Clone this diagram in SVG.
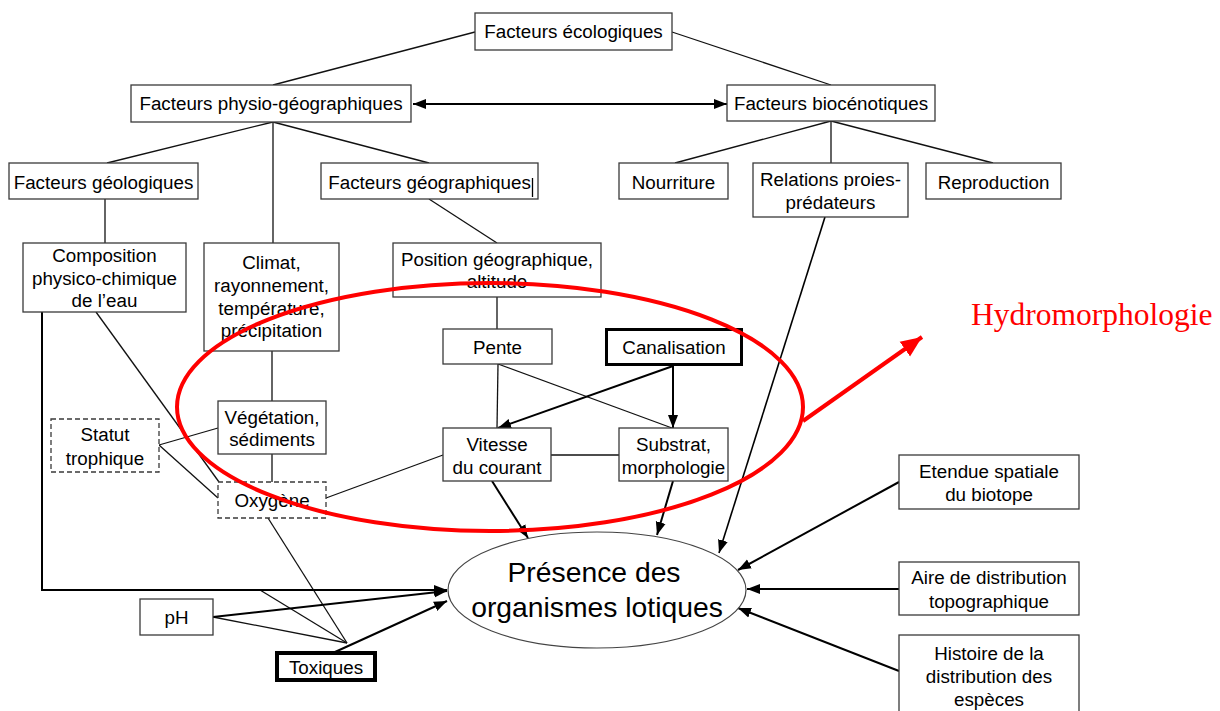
<svg xmlns="http://www.w3.org/2000/svg" width="1220" height="711" viewBox="0 0 1220 711">
<style>
.bx{fill:#fff;stroke:#3a3a3a;stroke-width:1.3}
.dash{stroke-dasharray:5,3}
.thick3{stroke:#000;stroke-width:3}
.thick4{stroke:#000;stroke-width:4}
text{font-family:"Liberation Sans",Arial,sans-serif;font-size:18.8px;fill:#000;text-anchor:middle}
.ln{stroke:#111;stroke-width:1.3;fill:none}
.ar{stroke:#000;stroke-width:2;fill:none;marker-end:url(#ah)}
.arm{stroke:#000;stroke-width:1.6;fill:none;marker-end:url(#ah)}
</style>
<defs>
<marker id="ah" markerUnits="userSpaceOnUse" markerWidth="14" markerHeight="12" viewBox="0 0 14 12" refX="13" refY="6" orient="auto">
<path d="M0,1 L13,6 L0,11 Z" fill="#000"/>
</marker>
<marker id="ahs" markerUnits="userSpaceOnUse" markerWidth="14" markerHeight="12" viewBox="0 0 14 12" refX="1" refY="6" orient="auto">
<path d="M14,1 L1,6 L14,11 Z" fill="#000"/>
</marker>
<marker id="rah" markerUnits="userSpaceOnUse" markerWidth="22" markerHeight="20" viewBox="0 0 22 20" refX="21" refY="10" orient="auto">
<path d="M0,1 L21,10 L0,19 Z" fill="#f00"/>
</marker>
</defs>
<rect width="1220" height="711" fill="#fff"/>

<g id="connectors">
<line class="ln" x1="475" y1="32" x2="273" y2="85"/>
<line class="ln" x1="672" y1="32" x2="831" y2="85"/>
<line class="ln" x1="273" y1="122" x2="107" y2="163"/>
<line class="ln" x1="273" y1="122" x2="273" y2="243"/>
<line class="ln" x1="273" y1="122" x2="429" y2="163"/>
<line class="ln" x1="105" y1="199" x2="105" y2="243"/>
<line class="ln" x1="429" y1="199" x2="497" y2="243"/>
<line class="ln" x1="831" y1="121" x2="675" y2="163"/>
<line class="ln" x1="831" y1="121" x2="831" y2="163"/>
<line class="ln" x1="831" y1="121" x2="993" y2="163"/>
<line class="ln" x1="272" y1="351" x2="272" y2="401"/>
<line class="ln" x1="272" y1="454" x2="272" y2="482"/>
<line class="ln" x1="96" y1="312" x2="219" y2="482"/>
<line class="ln" x1="159" y1="445" x2="218" y2="428"/>
<line class="ln" x1="159" y1="445" x2="218" y2="498"/>
<line class="ln" x1="326" y1="498" x2="443" y2="455"/>
<line class="ln" x1="497" y1="297" x2="497" y2="329"/>
<line class="ln" x1="498" y1="364" x2="497" y2="428"/>
<line class="ln" x1="498" y1="364" x2="672" y2="428"/>
<line class="ln" x1="551" y1="455" x2="619" y2="455"/>
<line class="ln" x1="268" y1="518" x2="347" y2="643"/>
<line class="ln" x1="260" y1="590" x2="347" y2="643"/>
<line class="ln" x1="213" y1="617" x2="347" y2="643"/>
<polyline class="ar" points="42,312 42,590 447,590"/>
<line class="ar" x1="213" y1="617" x2="447" y2="591"/>
<line class="ar" x1="335" y1="652" x2="447" y2="601"/>
<line class="ar" x1="413" y1="104" x2="727" y2="104" marker-start="url(#ahs)"/>
<line class="ar" x1="673" y1="366" x2="498" y2="428"/>
<line class="ar" x1="673" y1="366" x2="673" y2="428"/>
<line class="ar" x1="492" y1="481" x2="528" y2="538"/>
<line class="ar" x1="673" y1="481" x2="657" y2="535"/>
<line class="arm" x1="825" y1="217" x2="719" y2="553"/>
<line class="ar" x1="899" y1="482" x2="738" y2="570"/>
<line class="ar" x1="899" y1="589" x2="747" y2="589"/>
<line class="ar" x1="899" y1="671" x2="738" y2="608"/>
</g>

<g id="n-eco"><rect class="bx" x="475" y="13" width="197" height="37"/><text x="573.5" y="38">Facteurs écologiques</text></g>
<g id="n-physio"><rect class="bx" x="131" y="85" width="280" height="37"/><text x="271" y="110">Facteurs physio-géographiques</text></g>
<g id="n-bio"><rect class="bx" x="727" y="85" width="208" height="36"/><text x="831" y="110">Facteurs biocénotiques</text></g>
<g id="n-geol"><rect class="bx" x="9" y="163" width="189" height="36"/><text x="103.5" y="189">Facteurs géologiques</text></g>
<g id="n-geog"><rect class="bx" x="321" y="163" width="217" height="36"/><text x="429.5" y="189">Facteurs géographiques</text><line x1="532.5" y1="178" x2="532.5" y2="197" stroke="#000" stroke-width="1.3"/></g>
<g id="n-nourr"><rect class="bx" x="619" y="163" width="109" height="36"/><text x="673.5" y="189">Nourriture</text></g>
<g id="n-rel"><rect class="bx" x="753" y="163" width="155" height="54"/><text x="830.5" y="186">Relations proies-</text><text x="830.5" y="209">prédateurs</text></g>
<g id="n-repro"><rect class="bx" x="926" y="163" width="135" height="36"/><text x="993.5" y="189">Reproduction</text></g>
<g id="n-compo"><rect class="bx" x="23" y="243" width="163" height="69"/><text x="104.5" y="262">Composition</text><text x="104.5" y="285">physico-chimique</text><text x="104.5" y="307">de l’eau</text></g>
<g id="n-climat"><rect class="bx" x="204" y="243" width="135" height="108"/><text x="271.5" y="269">Climat,</text><text x="271.5" y="292">rayonnement,</text><text x="271.5" y="315">température,</text><text x="271.5" y="337">précipitation</text></g>
<g id="n-pos"><rect class="bx" x="393" y="243" width="208" height="54"/><text x="497" y="266">Position géographique,</text><text x="497" y="288">altitude</text></g>
<g id="n-pente"><rect class="bx" x="443" y="329" width="109" height="35"/><text x="497.5" y="354">Pente</text></g>
<g id="n-canal"><rect class="bx thick3" x="606.5" y="329.5" width="135" height="35"/><text x="674" y="354">Canalisation</text></g>
<g id="n-vitesse"><rect class="bx" x="443" y="428" width="108" height="53"/><text x="497" y="451">Vitesse</text><text x="497" y="474">du courant</text></g>
<g id="n-substrat"><rect class="bx" x="619" y="428" width="109" height="53"/><text x="673.5" y="451">Substrat,</text><text x="673.5" y="474">morphologie</text></g>
<g id="n-veg"><rect class="bx" x="218" y="401" width="108" height="53"/><text x="272" y="424">Végétation,</text><text x="272" y="446">sédiments</text></g>
<g id="n-oxy"><rect class="bx dash" x="218" y="482" width="108" height="36"/><text x="272" y="507">Oxygène</text></g>
<g id="n-statut"><rect class="bx dash" x="51" y="419" width="108" height="53"/><text x="105" y="441">Statut</text><text x="105" y="465">trophique</text></g>
<g id="n-ph"><rect class="bx" x="140" y="599" width="73" height="36"/><text x="176.5" y="624">pH</text></g>
<g id="n-tox"><rect class="bx thick4" x="277" y="653" width="98" height="27"/><text x="326" y="674">Toxiques</text></g>
<g id="n-etendue"><rect class="bx" x="899" y="455" width="180" height="54"/><text x="989" y="478">Etendue spatiale</text><text x="989" y="501">du biotope</text></g>
<g id="n-aire"><rect class="bx" x="899" y="562" width="180" height="53"/><text x="989" y="584">Aire de distribution</text><text x="989" y="608">topographique</text></g>
<g id="n-hist"><rect class="bx" x="899" y="635" width="180" height="90"/><text x="989" y="660">Histoire de la</text><text x="989" y="683">distribution des</text><text x="989" y="706">espèces</text></g>
<g id="n-presence"><ellipse cx="597" cy="590" rx="149" ry="58" fill="#fff" stroke="#444" stroke-width="1.2"/><text x="594" y="582" style="font-size:28.3px">Présence des</text><text x="597" y="617" style="font-size:28.3px">organismes lotiques</text></g>

<g id="hydro">
<ellipse cx="490" cy="407" rx="313" ry="124" fill="none" stroke="#f00" stroke-width="4"/>
<line x1="803" y1="421" x2="922" y2="337" stroke="#f00" stroke-width="4" marker-end="url(#rah)"/>
<text x="971" y="325" style="font-family:'Liberation Serif','Times New Roman',serif;font-size:31.5px;fill:#f00;text-anchor:start">Hydromorphologie</text>
</g>
</svg>
